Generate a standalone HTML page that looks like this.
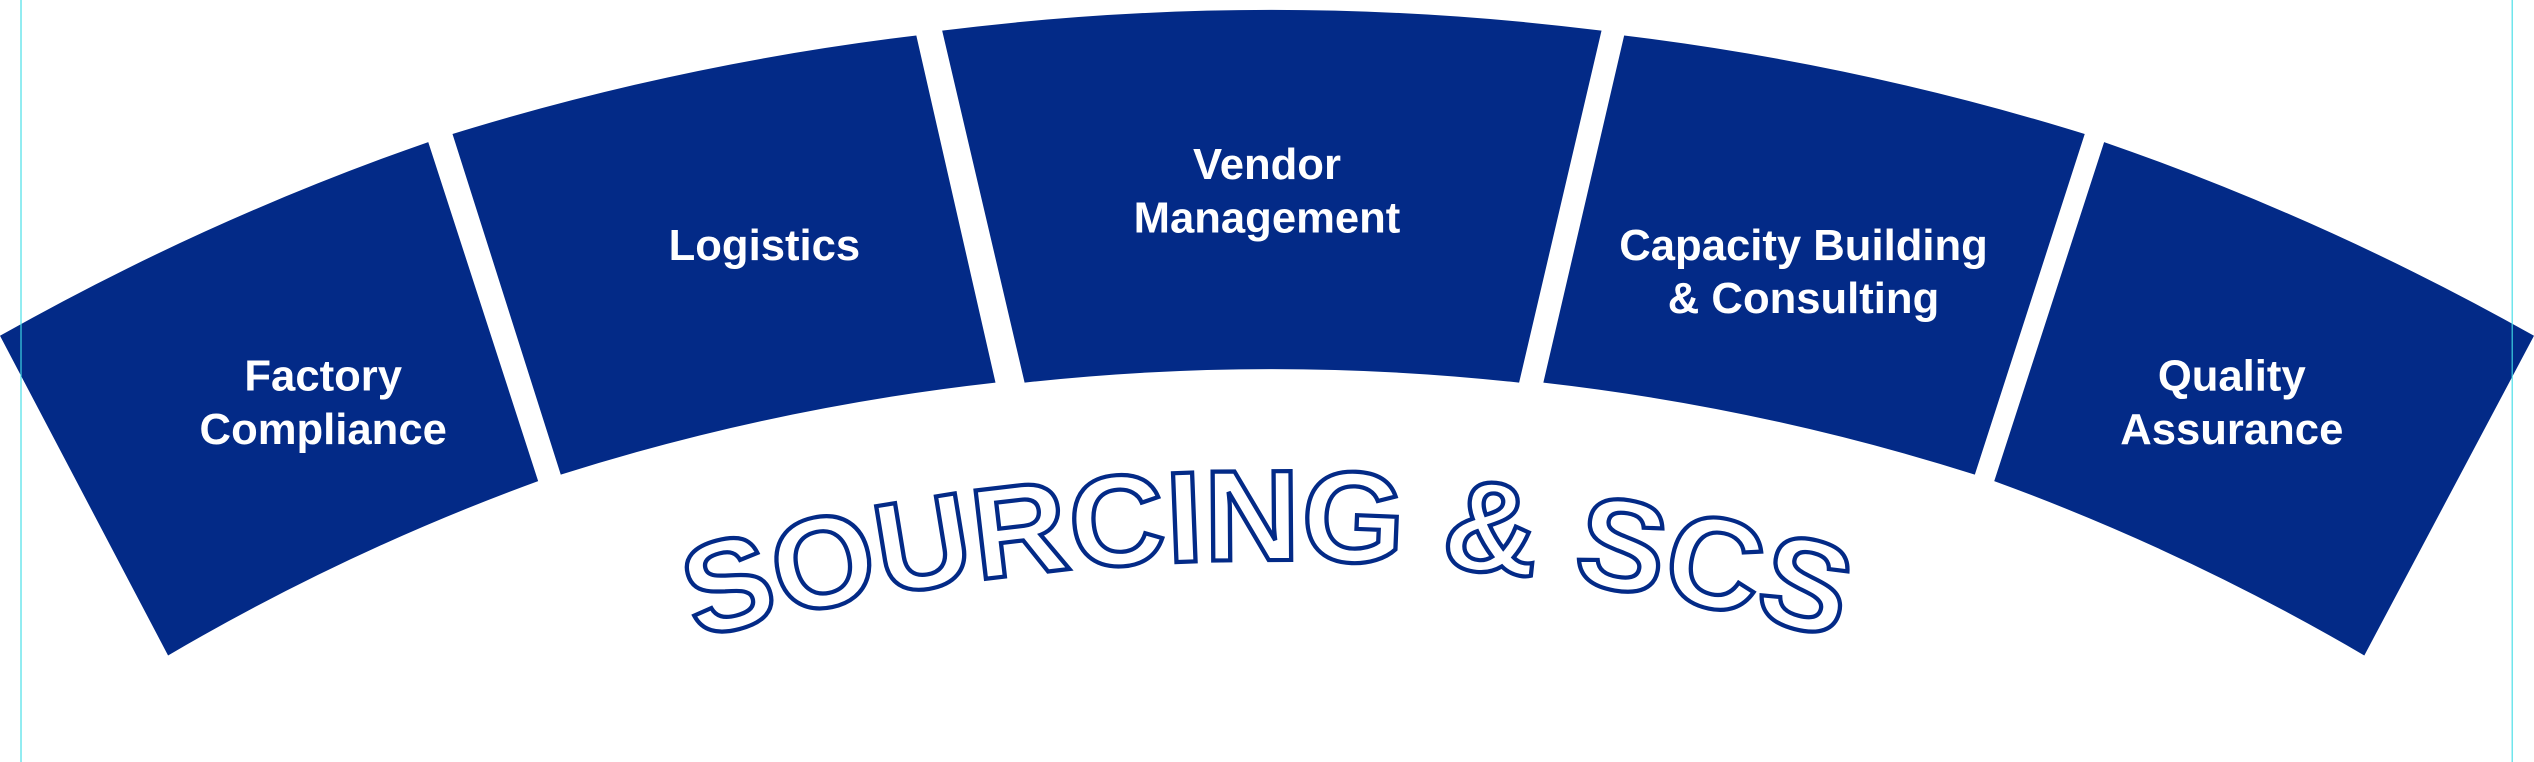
<!DOCTYPE html>
<html><head><meta charset="utf-8"><style>
html,body{margin:0;padding:0;background:#fff;}
body{width:2534px;height:762px;overflow:hidden;position:relative;}
svg{position:absolute;left:0;top:0;}
.l{font-family:"Liberation Sans",Arial,sans-serif;font-weight:bold;fill:#fff;font-size:27px;text-anchor:middle;}
</style></head><body>
<svg width="2534" height="762" viewBox="0 0 1568 472" preserveAspectRatio="none">
<g fill="#032a87">
<path d="M0,208 A1632,1632 0 0 1 265,88 L333,298 A1410,1410 0 0 0 104,406 Z"/>
<path d="M280,83 A1632,1632 0 0 1 567,22 L616,237 A1410,1410 0 0 0 347,294 Z"/>
<path d="M583,19 A1632,1632 0 0 1 991,19 L940,237 A1410,1410 0 0 0 634,237 Z"/>
<path d="M1005,22 A1632,1632 0 0 1 1290,83 L1222,294 A1410,1410 0 0 0 955,237 Z"/>
<path d="M1302,88 A1632,1632 0 0 1 1568,208 L1463,406 A1410,1410 0 0 0 1234,298 Z"/>
</g>
<line x1="13" y1="0" x2="13" y2="472" stroke="#40dde6" stroke-width="0.7"/>
<line x1="1554.5" y1="0" x2="1554.5" y2="472" stroke="#40dde6" stroke-width="0.7"/>
<text class="l" x="200" y="242">Factory</text>
<text class="l" x="200" y="275">Compliance</text>
<text class="l" x="473" y="161">Logistics</text>
<text class="l" x="784" y="111">Vendor</text>
<text class="l" x="784" y="144">Management</text>
<text class="l" x="1116" y="161">Capacity Building</text>
<text class="l" x="1116" y="194">&amp; Consulting</text>
<text class="l" x="1381" y="242">Quality</text>
<text class="l" x="1381" y="275">Assurance</text>
<defs><path id="arc" d="M137.5,520.2 A1293,1293 0 0 1 1430.5,520.2"/></defs>
<text font-family="Liberation Sans, Arial, sans-serif" font-weight="bold" font-size="80" fill="#fff" stroke="#032a87" stroke-width="2.6" text-anchor="middle">
<textPath href="#arc" startOffset="50%" textLength="715" lengthAdjust="spacingAndGlyphs">SOURCING &amp; SCS</textPath>
</text>
</svg>
</body></html>
